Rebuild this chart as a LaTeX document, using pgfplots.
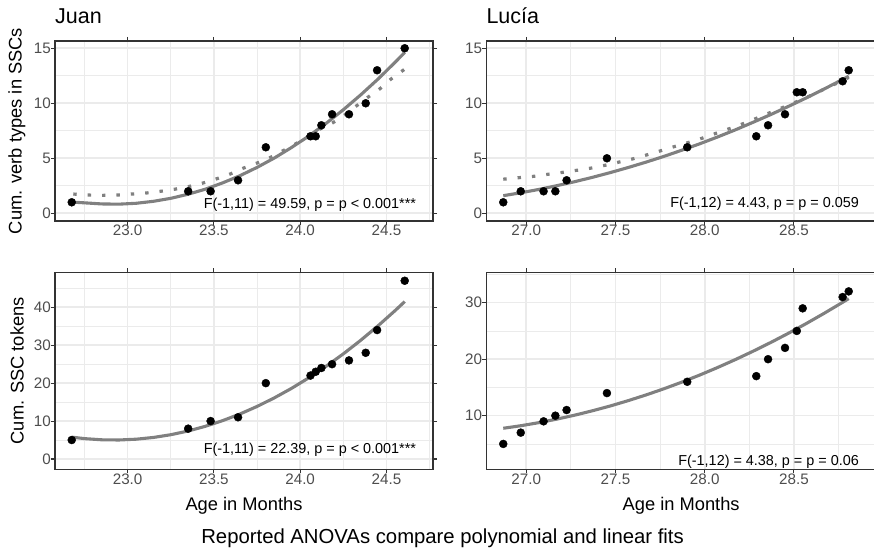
\documentclass[border=0pt]{standalone}
\usepackage{fontspec}
\setmainfont{Liberation Sans}
\usepackage{pgfplots}
\pgfplotsset{compat=1.18}
\definecolor{gray20}{HTML}{333333}
\definecolor{gray30}{HTML}{4D4D4D}
\definecolor{grid92}{HTML}{EBEBEB}
\definecolor{fitgrey}{HTML}{808080}
\tikzset{anno/.style={anchor=east, inner sep=0pt, font=\fontsize{14.4}{16}\selectfont}}
\pgfplotsset{
  ggpanel/.style={
    scale only axis,
    axis line style={draw=gray20, line width=1.1pt},
    tick align=outside,
    major tick length=4pt,
    minor tick length=0pt,
    tick style={draw=gray20, line width=1.1pt},
    grid=both,
    major grid style={draw=grid92, line width=1.6pt},
    minor grid style={draw=grid92, line width=0.8pt},
    tick label style={font=\fontsize{15.2}{17}\selectfont, text=gray30, inner sep=0pt},
    /pgf/number format/assume math mode=true,
    yticklabel style={anchor=east},
    xticklabel style={anchor=north},
    label style={font=\fontsize{18.3}{20}\selectfont, inner sep=0pt},
    title style={font=\fontsize{21.5}{24}\selectfont, at={(0,1)}, anchor=base west, yshift=11.5pt, inner sep=0pt},
    ylabel style={at={(axis description cs:-0.1005,0.5)}, anchor=center},
    xlabel style={at={(axis description cs:0.5,-0.1838)}, anchor=center},
  },
  fitline/.style={no marks, fitgrey, line width=3.1pt},
  dotline/.style={no marks, fitgrey, line width=3.2pt, dash pattern=on 3.4pt off 11pt, smooth},
  pts/.style={only marks, mark=*, mark size=4pt, black},
}
\begin{document}
\begin{tikzpicture}
\path[use as bounding box] (0pt,0pt) rectangle (874pt,548pt);

% ---------------- Juan: verb types ----------------
\begin{axis}[ggpanel, at={(55pt,327pt)}, anchor=south west, width=378pt, height=180pt,
  xmin=22.579, xmax=24.77, ymin=-0.70, ymax=15.66,
  xtick={23,23.5,24,24.5}, minor xtick={22.75,23.25,23.75,24.25,24.75},
  ytick={0,5,10,15}, minor ytick={2.5,7.5,12.5},
  xticklabel style={/pgf/number format/.cd, fixed, fixed zerofill, precision=1},
  ylabel={Cum. verb types in SSCs}, title={Juan}]
\addplot[dotline] coordinates {
 (22.685,1.75) (22.772,1.66) (22.855,1.63) (22.940,1.66) (23.023,1.75) (23.106,1.84)
 (23.191,2.00) (23.270,2.18) (23.351,2.42) (23.432,2.73) (23.513,3.12) (23.596,3.58)
 (23.669,4.09) (23.747,4.55) (23.824,5.05) (23.901,5.69) (23.979,6.36) (24.046,7.00)
 (24.113,7.64) (24.190,8.24) (24.258,8.94) (24.326,9.76) (24.393,10.55) (24.461,11.30)
 (24.525,12.18) (24.606,13.10)};
\addplot[fitline] coordinates {
 (22.676,1.02) (22.75,0.95) (22.85,0.85) (22.95,0.83) (23.05,0.91) (23.15,1.09)
 (23.25,1.36) (23.35,1.73) (23.45,2.19) (23.55,2.76) (23.65,3.41) (23.75,4.17)
 (23.85,5.02) (23.95,5.98) (24.05,7.02) (24.15,8.17) (24.25,9.41) (24.35,10.75)
 (24.45,12.18) (24.55,13.72) (24.606,14.62)};
\addplot[pts] table {
x y
22.676 1
23.351 2
23.481 2
23.640 3
23.801 6
24.060 7
24.090 7
24.123 8
24.185 9
24.283 9
24.380 10
24.446 13
24.606 15
};
\node[anno] at (axis cs:24.673,0.80) {F(-1,11) = 49.59, p = p < 0.001***};
\end{axis}

% ---------------- Lucía: verb types ----------------
\begin{axis}[ggpanel, at={(486.3pt,327pt)}, anchor=south west, width=389.7pt, height=180pt,
  xmin=26.776, xmax=28.960, ymin=-0.70, ymax=15.66,
  xtick={27,27.5,28,28.5}, minor xtick={26.75,27.25,27.75,28.25,28.75},
  ytick={0,5,10,15}, minor ytick={2.5,7.5,12.5},
  xticklabel style={/pgf/number format/.cd, fixed, fixed zerofill, precision=1},
  title={Lucía}]
\addplot[dotline] coordinates {
 (26.871,3.10) (26.961,3.24) (27.041,3.36) (27.123,3.55) (27.204,3.72) (27.284,3.91)
 (27.367,4.12) (27.443,4.37) (27.521,4.66) (27.600,4.96) (27.678,5.32) (27.759,5.71)
 (27.834,6.08) (27.913,6.46) (27.992,6.86) (28.067,7.29) (28.142,7.71) (28.216,8.15)
 (28.291,8.64) (28.366,9.15) (28.441,9.64) (28.516,10.15) (28.591,10.68) (28.665,11.25)
 (28.740,11.82) (28.807,12.35)};
\addplot[fitline] coordinates {
 (26.871,1.60) (26.971,1.87) (27.071,2.17) (27.171,2.51) (27.271,2.87) (27.371,3.27)
 (27.471,3.70) (27.571,4.16) (27.671,4.65) (27.771,5.17) (27.871,5.73) (27.971,6.31)
 (28.071,6.93) (28.171,7.58) (28.271,8.27) (28.371,8.98) (28.471,9.73) (28.571,10.50)
 (28.671,11.31) (28.771,12.15) (28.807,12.46)};
\addplot[pts] table {
x y
26.871 1
26.969 2
27.097 2
27.163 2
27.226 3
27.452 5
27.902 6
28.289 7
28.355 8
28.450 9
28.516 11
28.549 11
28.773 12
28.807 13
};
\node[anno] at (axis cs:28.865,0.85) {F(-1,12) = 4.43, p = p = 0.059};
\end{axis}

% ---------------- Juan: tokens ----------------
\begin{axis}[ggpanel, at={(55pt,78.7pt)}, anchor=south west, width=378pt, height=197pt,
  xmin=22.579, xmax=24.77, ymin=-2.72, ymax=49.23,
  xtick={23,23.5,24,24.5}, minor xtick={22.75,23.25,23.75,24.25,24.75},
  ytick={0,10,20,30,40}, minor ytick={5,15,25,35,45},
  xticklabel style={/pgf/number format/.cd, fixed, fixed zerofill, precision=1},
  ylabel={Cum. SSC tokens}, xlabel={Age in Months}]
\addplot[fitline] coordinates {
 (22.676,5.76) (22.75,5.37) (22.85,5.06) (22.95,5.01) (23.05,5.22) (23.15,5.68)
 (23.25,6.40) (23.35,7.37) (23.45,8.61) (23.55,10.10) (23.65,11.84) (23.75,13.85)
 (23.85,16.11) (23.95,18.62) (24.05,21.40) (24.15,24.43) (24.25,27.71) (24.35,31.26)
 (24.45,35.06) (24.55,39.12) (24.606,41.50)};
\addplot[pts] table {
x y
22.676 5
23.351 8
23.481 10
23.640 11
23.801 20
24.060 22
24.090 23
24.123 24
24.185 25
24.283 26
24.380 28
24.446 34
24.606 47
};
\node[anno] at (axis cs:24.673,2.37) {F(-1,11) = 22.39, p = p < 0.001***};
\end{axis}

% ---------------- Lucía: tokens ----------------
\begin{axis}[ggpanel, at={(486.3pt,78.7pt)}, anchor=south west, width=389.7pt, height=197pt,
  xmin=26.776, xmax=28.960, ymin=0.51, ymax=35.38,
  xtick={27,27.5,28,28.5}, minor xtick={26.75,27.25,27.75,28.25,28.75},
  ytick={10,20,30}, minor ytick={5,15,25,35},
  xticklabel style={/pgf/number format/.cd, fixed, fixed zerofill, precision=1},
  xlabel={Age in Months}]
\addplot[fitline] coordinates {
 (26.871,7.77) (26.971,8.23) (27.071,8.77) (27.171,9.39) (27.271,10.09) (27.371,10.87)
 (27.471,11.72) (27.571,12.66) (27.671,13.67) (27.771,14.76) (27.871,15.93) (27.971,17.18)
 (28.071,18.51) (28.171,19.92) (28.271,21.41) (28.371,22.97) (28.471,24.62) (28.571,26.34)
 (28.671,28.15) (28.771,30.03) (28.807,30.72)};
\addplot[pts] table {
x y
26.871 5
26.969 7
27.097 9
27.163 10
27.226 11
27.452 14
27.902 16
28.289 17
28.355 20
28.450 22
28.516 25
28.549 29
28.773 31
28.807 32
};
\node[anno] at (axis cs:28.865,1.86) {F(-1,12) = 4.38, p = p = 0.06};
\end{axis}

\node[anchor=base, inner sep=0pt, font=\fontsize{20.3}{22}\selectfont] at (442.6pt,5pt)
  {Reported ANOVAs compare polynomial and linear fits};
\end{tikzpicture}
\end{document}
